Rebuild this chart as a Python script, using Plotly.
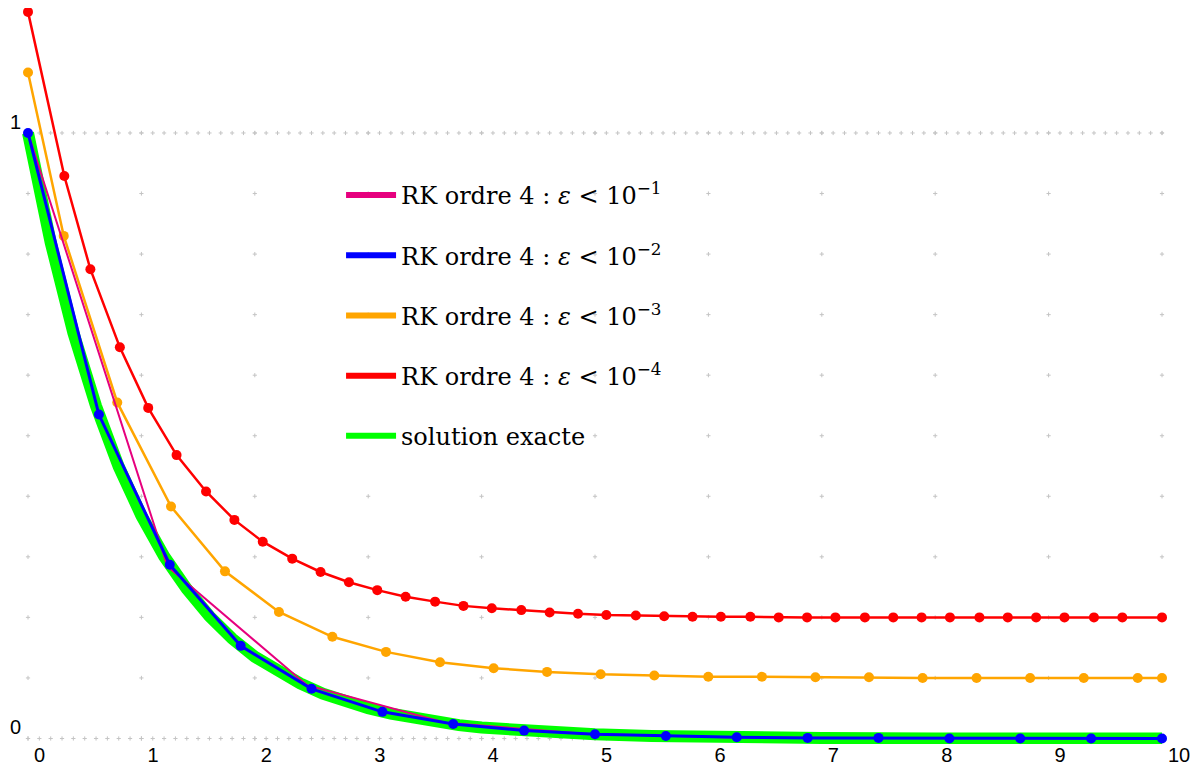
import numpy as np
import plotly.graph_objects as go

x_exact = [0.0, 0.2, 0.4, 0.6, 0.8, 1.0, 1.2, 1.4, 1.6, 1.8, 2.0, 2.2, 2.4, 2.6, 2.8, 3.0,
           3.2, 3.4, 3.6, 3.8, 4.0, 4.5, 5.0, 5.5, 6.0, 7.0, 8.0, 9.0, 10.0]
y_exact = [1.000, 0.819, 0.670, 0.549, 0.449, 0.368, 0.301, 0.247, 0.202, 0.165, 0.135,
           0.111, 0.091, 0.074, 0.061, 0.050, 0.041, 0.033, 0.027, 0.022, 0.018, 0.011,
           0.007, 0.004, 0.002, 0.001, 0.000, 0.000, 0.000]

# RK ordre 4, eps < 1e-1 (rose)
x_eps1 = [0.0, 1.23, 2.46, 3.68, 4.91, 6.14, 7.37, 8.60, 9.83, 10.0]
y_eps1 = [1.000, 0.284, 0.088, 0.026, 0.008, 0.002, 0.001, 0.000, 0.000, 0.000]

# RK ordre 4, eps < 1e-2 (bleu)
x_eps2 = [0.0, 0.625, 1.25, 1.875, 2.5, 3.125, 3.75, 4.375, 5.0, 5.625, 6.25, 6.875,
          7.5, 8.125, 8.75, 9.375, 10.0]
y_eps2 = [1.000, 0.535, 0.287, 0.153, 0.082, 0.044, 0.024, 0.013, 0.007, 0.004, 0.002,
          0.001, 0.001, 0.000, 0.000, 0.000, 0.000]

# RK ordre 4, eps < 1e-3 (orange)
x_eps3 = [0.0, 0.315, 0.787, 1.261, 1.737, 2.213, 2.684, 3.157, 3.633, 4.106, 4.577,
          5.050, 5.523, 5.999, 6.472, 6.944, 7.416, 7.889, 8.365, 8.837, 9.310, 9.786, 10.0]
y_eps3 = [1.100, 0.830, 0.555, 0.383, 0.276, 0.209, 0.168, 0.143, 0.126, 0.116, 0.110,
          0.106, 0.104, 0.102, 0.102, 0.101, 0.101, 0.100, 0.100, 0.100, 0.100, 0.100, 0.100]

# RK ordre 4, eps < 1e-4 (rouge)
x_eps4 = [0.0, 0.32, 0.55, 0.81, 1.06, 1.31, 1.57, 1.82, 2.07, 2.33, 2.58, 2.83, 3.08,
          3.33, 3.59, 3.84, 4.09, 4.35, 4.60, 4.85, 5.10, 5.36, 5.61, 5.86, 6.11, 6.37,
          6.62, 6.87, 7.12, 7.38, 7.63, 7.88, 8.13, 8.39, 8.64, 8.89, 9.14, 9.40, 9.65, 10.0]
y_eps4 = [1.200, 0.929, 0.775, 0.646, 0.546, 0.468, 0.408, 0.361, 0.325, 0.297, 0.275,
          0.258, 0.245, 0.234, 0.226, 0.219, 0.215, 0.212, 0.208, 0.206, 0.204, 0.203,
          0.202, 0.201, 0.201, 0.201, 0.200, 0.200, 0.200, 0.200, 0.200, 0.200, 0.200,
          0.200, 0.200, 0.200, 0.200, 0.200, 0.200, 0.200]

legend_labels = [
    "RK ordre 4 : <i>ε</i> &lt; 10<sup>−1</sup>",
    "RK ordre 4 : <i>ε</i> &lt; 10<sup>−2</sup>",
    "RK ordre 4 : <i>ε</i> &lt; 10<sup>−3</sup>",
    "RK ordre 4 : <i>ε</i> &lt; 10<sup>−4</sup>",
    "solution exacte",
]
legend_colors = ["#e6007e", "#0000ff", "#ffa500", "#ff0000", "#00ff00"]

x_ticks = list(range(11))
y_ticks = [0, 1]

fig = go.Figure()

# grille en pointillés (façon GeoGebra)
gx, gy = np.meshgrid(x_ticks, np.round(np.arange(0, 1.01, 0.1), 2))
hx = np.round(np.arange(0, 10.01, 0.1), 2)
grid_x = np.concatenate([gx.ravel(), hx, hx])
grid_y = np.concatenate([gy.ravel(), np.zeros_like(hx), np.ones_like(hx)])
fig.add_trace(go.Scatter(x=grid_x, y=grid_y, mode="markers", showlegend=False,
                         hoverinfo="skip",
                         marker=dict(symbol="cross-thin", size=3,
                                     line=dict(width=1, color="#c4c4c4"))))

fig.add_trace(go.Scatter(x=x_exact, y=y_exact, mode="lines", showlegend=False,
                         line=dict(color="#00ff00", width=12)))
fig.add_trace(go.Scatter(x=x_eps4, y=y_eps4, mode="lines+markers", showlegend=False,
                         cliponaxis=False,
                         line=dict(color="#ff0000", width=2.5),
                         marker=dict(color="#ff0000", size=10)))
fig.add_trace(go.Scatter(x=x_eps3, y=y_eps3, mode="lines+markers", showlegend=False,
                         cliponaxis=False,
                         line=dict(color="#ffa500", width=2.5),
                         marker=dict(color="#ffa500", size=10)))
fig.add_trace(go.Scatter(x=x_eps1, y=y_eps1, mode="lines", showlegend=False,
                         line=dict(color="#e6007e", width=2)))
fig.add_trace(go.Scatter(x=x_eps2, y=y_eps2, mode="lines+markers", showlegend=False,
                         cliponaxis=False,
                         line=dict(color="#0000ff", width=3),
                         marker=dict(color="#0000ff", size=10)))

# entrées de légende (traits seuls)
for i, (lab, col) in enumerate(zip(legend_labels, legend_colors)):
    fig.add_trace(go.Scatter(x=[None], y=[None], mode="lines", name=lab,
                             legendgroup=str(i), line=dict(color=col, width=6)))

# la page ajoute une marge de 8 px : la figure occupe le reste de la fenêtre
fig.update_layout(
    width=1193, height=757,
    margin=dict(l=14, r=6, t=0, b=10, autoexpand=False),
    paper_bgcolor="white", plot_bgcolor="white",
    showlegend=True,
    legend=dict(x=0.272, y=0.7792, xanchor="left", yanchor="top",
                bgcolor="rgba(0,0,0,0)", borderwidth=0,
                traceorder="grouped", tracegroupgap=26, itemwidth=50,
                font=dict(family="DejaVu Serif", size=24, color="black")),
)
fig.update_xaxes(range=[-0.053, 10.291], tickvals=x_ticks, showgrid=False,
                 zeroline=False, showline=False, ticks="", automargin=False,
                 anchor="free", position=0.0188,
                 ticklabelposition="outside right", ticklabelshift=6,
                 tickfont=dict(family="Liberation Sans, Arial", size=20, color="black"))
fig.update_yaxes(range=[-0.0091, 1.2064], domain=[0.01473, 1], tickvals=y_ticks,
                 showgrid=False, zeroline=False, showline=False, ticks="",
                 automargin=False, ticklabelposition="outside top", ticklabelshift=3,
                 tickfont=dict(family="Liberation Sans, Arial", size=20, color="black"))

fig.write_html("out.html")
